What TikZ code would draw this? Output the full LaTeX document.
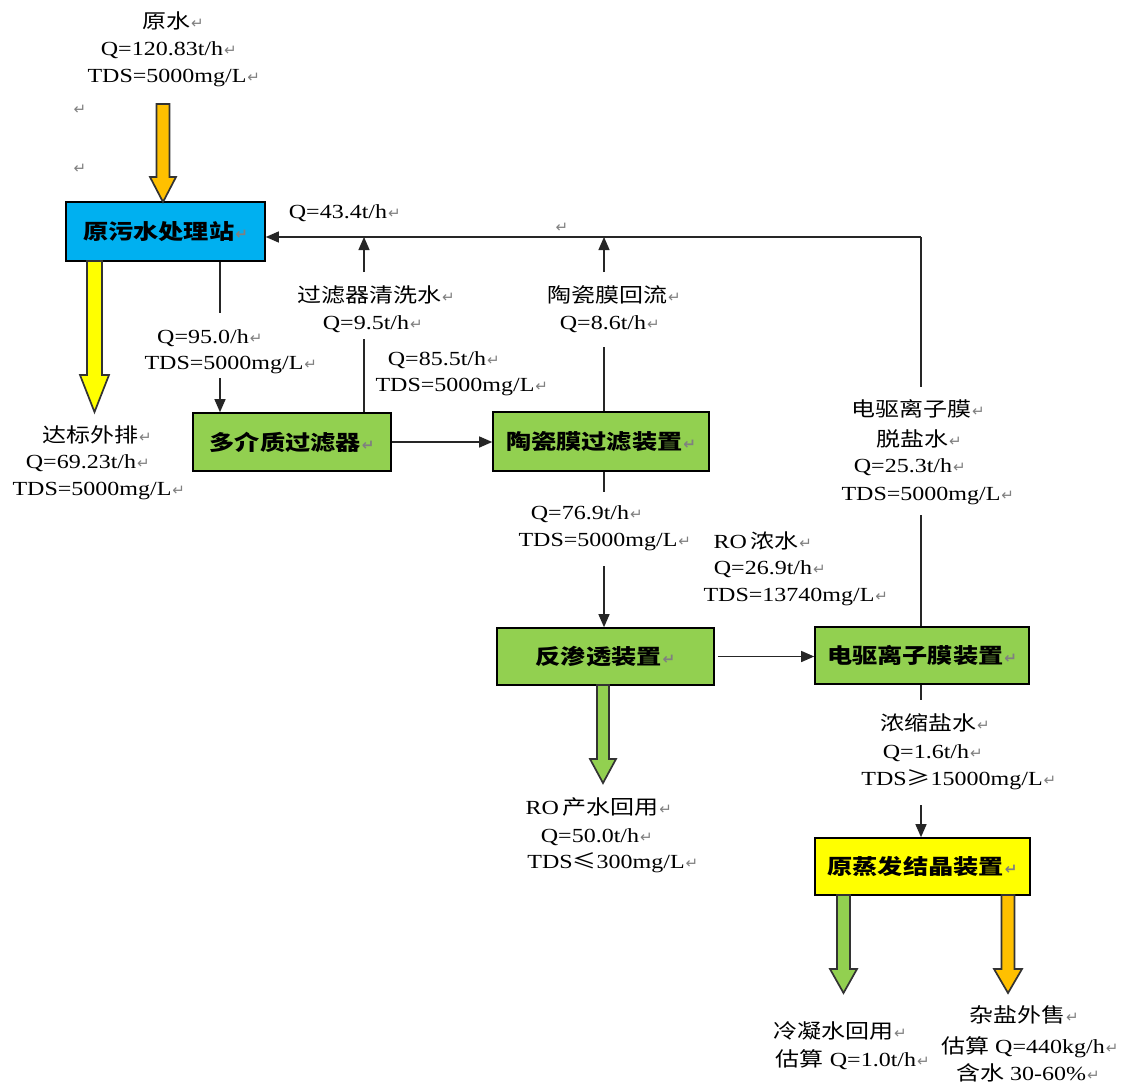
\documentclass[tikz,border=0pt]{standalone}
\usepackage{fontspec}
\usetikzlibrary{arrows.meta}
\setmainfont{Liberation Serif}[FakeStretch=1.2]
\newfontfamily\cjk{Noto Sans CJK SC}[FakeStretch=1.2]
\newfontfamily\mkfont{DejaVu Sans}
\definecolor{cblue}{HTML}{00B0F0}
\definecolor{cgreen}{HTML}{92D050}
\definecolor{cyel}{HTML}{FFFF00}
\definecolor{corange}{HTML}{FFC000}
\newcommand\mksym{\textcolor{black!50}{\mkfont\fontsize{15}{15}\selectfont ↵}}
\newcommand\pmk{\rlap{\hspace{1pt}\mksym}}
\newcommand\pmkw{\hspace{1pt}\mksym}
\newcommand\fatarrow[7]{%
  \filldraw[fill=#1,draw=black!80,line width=1.7pt,line join=miter]
  (#2-#5,#3) -- (#2+#5,#3) -- (#2+#5,#4-#7) -- (#2+#6,#4-#7) -- (#2,#4)
  -- (#2-#6,#4-#7) -- (#2-#5,#4-#7) -- cycle;}
\tikzset{
  box/.style={draw=black,line width=1.6pt,inner sep=0pt,
    font=\cjk\bfseries\fontsize{21}{25}\selectfont},
  lab/.style={inner sep=0pt,anchor=center,font=\fontsize{20}{24}\selectfont},
  conn/.style={line width=1.3pt,draw=black!85},
  arr/.style={conn,-{Triangle[length=13pt,width=11pt]}},
}
\begin{document}
\begin{tikzpicture}[x=1pt,y=-1pt]
\fill[white] (0,0) rectangle (1121,1086);
\useasboundingbox (0,0) rectangle (1121,1086);

% boxes
\node[box,fill=cblue,minimum width=199pt,minimum height=59pt] (st) at (165.5,231.5) {原污水处理站\pmkw};
\node[box,fill=cgreen,minimum width=198pt,minimum height=58pt] (mm) at (292,442) {多介质过滤器\pmkw};
\node[box,fill=cgreen,minimum width=216pt,minimum height=59pt] (cm) at (601,441.5) {陶瓷膜过滤装置\pmkw};
\node[box,fill=cgreen,minimum width=217pt,minimum height=57pt] (ro) at (605.5,656.5) {反渗透装置\pmkw};
\node[box,fill=cgreen,minimum width=214pt,minimum height=57pt] (ed) at (922,655.5) {电驱离子膜装置\pmkw};
\node[box,fill=cyel,minimum width=215pt,minimum height=57pt] (ev) at (922.5,866.5) {原蒸发结晶装置\pmkw};

% junction / break coordinates
\coordinate (jR) at (921,237);
\coordinate (jF) at (364,237);
\coordinate (jC) at (604,237);
\coordinate (rA) at (921,387);
\coordinate (rB) at (921,515);
\coordinate (fA) at (364,339);
\coordinate (fB) at (364,272);
\coordinate (cA) at (604,347);
\coordinate (cB) at (604,272);
\coordinate (sA) at (220,313);
\coordinate (sB) at (220,378);
\coordinate (dA) at (604,492);
\coordinate (dB) at (604,566);
\coordinate (eA) at (921,700);
\coordinate (eB) at (921,805);

% connectors
\draw[conn] (jR) -- (rA);
\draw[conn] (rB) -- (rB |- ed.north);
\draw[arr] (jR) -- (jR -| st.east);
\draw[conn] (fB |- mm.north) -- (fA);
\draw[arr] (fB) -- (jF);
\draw[conn] (cA |- cm.north) -- (cA);
\draw[arr] (cB) -- (jC);
\draw[conn] (sA |- st.south) -- (sA);
\draw[arr] (sB) -- (sB |- mm.north);
\draw[arr] (mm.east) -- (mm.east -| cm.west);
\draw[conn] (dA |- cm.south) -- (dA);
\draw[arr] (dB) -- (dB |- ro.north);
\draw[arr] ([xshift=3pt]ro.east) -- (ro.east -| ed.west);
\draw[conn] (eA |- ed.south) -- (eA);
\draw[arr] (eB) -- (eB |- ev.north);

% block arrows
\fatarrow{corange}{163}{104}{202}{6.5}{13}{25}
\fatarrow{cyel}{94.5}{261}{412}{7.5}{14.5}{37}
\fatarrow{cgreen}{603}{685}{783}{6}{13}{24}
\fatarrow{cgreen}{843.5}{895}{993}{6.5}{13.5}{24}
\fatarrow{corange}{1008}{895}{993}{6.5}{14}{24}

% labels
\node[lab] (t1) at (166,21) {\cjk 原水\pmk};
\node[lab] (t2) at (162,50) {Q=120.83t/h\pmk};
\node[lab] (t3) at (167,78) {TDS=5000mg/L\pmk};
\node[lab] (m1) at (80,110) {\mksym};
\node[lab] (m2) at (80,169) {\mksym};
\node[lab] (t4) at (338,213) {Q=43.4t/h\pmk};
\node[lab] (m3) at (562,228) {\mksym};
\node[lab] (t5) at (369,295) {\cjk 过滤器清洗水\pmk};
\node[lab] (t6) at (366,324) {Q=9.5t/h\pmk};
\node[lab] (t7) at (607,295) {\cjk 陶瓷膜回流\pmk};
\node[lab] (t8) at (603,324) {Q=8.6t/h\pmk};
\node[lab] (t9) at (203,338) {Q=95.0/h\pmk};
\node[lab] (t10) at (224,365) {TDS=5000mg/L\pmk};
\node[lab] (t11) at (437,360) {Q=85.5t/h\pmk};
\node[lab] (t12) at (455,387) {TDS=5000mg/L\pmk};
\node[lab] (t13) at (90,435) {\cjk 达标外排\pmk};
\node[lab] (t14) at (81,463) {Q=69.23t/h\pmk};
\node[lab] (t15) at (92,491) {TDS=5000mg/L\pmk};
\node[lab] (t16) at (911,409) {\cjk 电驱离子膜\pmk};
\node[lab] (t17) at (912,439) {\cjk 脱盐水\pmk};
\node[lab] (t18) at (903,467) {Q=25.3t/h\pmk};
\node[lab] (t19) at (921,496) {TDS=5000mg/L\pmk};
\node[lab] (t20) at (580,514) {Q=76.9t/h\pmk};
\node[lab] (t21) at (598,542) {TDS=5000mg/L\pmk};
\node[lab] (t22) at (756,541) {RO\,{\cjk 浓水}\pmk};
\node[lab] (t23) at (763,569) {Q=26.9t/h\pmk};
\node[lab] (t24) at (789,597) {TDS=13740mg/L\pmk};
\node[lab] (t25) at (592,807) {RO\,{\cjk 产水回用}\pmk};
\node[lab] (t26) at (590,837) {Q=50.0t/h\pmk};
\node[lab] (t27) at (606,863) {TDS{\cjk ≤}300mg/L\pmk};
\node[lab] (t28) at (928,723) {\cjk 浓缩盐水\pmk};
\node[lab] (t29) at (926,753) {Q=1.6t/h\pmk};
\node[lab] (t30) at (952,780) {TDS{\cjk ≥}15000mg/L\pmk};
\node[lab] (t31) at (833,1031) {\cjk 冷凝水回用\pmk};
\node[lab] (t32) at (846,1060) {{\cjk 估算} Q=1.0t/h\pmk};
\node[lab] (t33) at (1017,1015) {\cjk 杂盐外售\pmk};
\node[lab] (t34) at (1023,1047) {{\cjk 估算} Q=440kg/h\pmk};
\node[lab] (t35) at (1021,1073) {{\cjk 含水} 30-60\%\pmk};
\end{tikzpicture}
\end{document}
